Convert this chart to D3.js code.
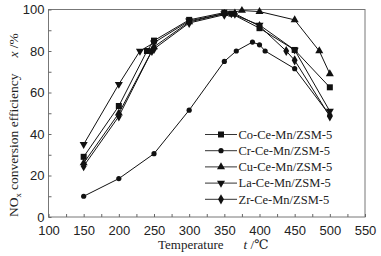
<!DOCTYPE html>
<html>
<head>
<meta charset="utf-8">
<title>NOx conversion</title>
<style>
  body { margin: 0; background: #fff; }
  svg { font-family: "Liberation Serif", "DejaVu Serif", serif; }
  .axis text { font-size: 13px; fill: #222; }
  .axis line { stroke: #666; }
  .axis path { display: none; }
  .series { fill: none; stroke: #111; stroke-width: 1; }
  .legend text { font-size: 12.5px; fill: #222; }
</style>
</head>
<body>
<div id="chart"></div>
<script src="https://d3js.org/d3.v7.min.js"></script>
<script>
// values: [temperature, efficiency %]
var seriesNames = ["Co-Ce-Mn/ZSM-5", "Cr-Ce-Mn/ZSM-5", "Cu-Ce-Mn/ZSM-5", "La-Ce-Mn/ZSM-5", "Zr-Ce-Mn/ZSM-5"];
var coData = [[150,29],[200,53.5],[240,80],[250,85],[300,95],[350,98.5],[360,98],[400,91],[450,80.5],[500,62.5]];
var crData = [[150,10],[200,18.5],[250,30.5],[300,51.5],[350,75],[367,80],[390,84.3],[400,83],[408,80],[450,71.5],[500,49]];
var cuData = [[150,26],[200,50],[250,82],[300,94],[350,98],[375,99.5],[400,99],[450,95],[485,80],[500,69]];
var laData = [[150,35],[200,64],[230,80],[250,84],[300,94.5],[350,98],[360,98],[400,92.5],[450,80.5],[500,51]];
var zrData = [[150,24.5],[200,48.5],[247,80],[250,81],[300,93.5],[350,97.5],[365,98],[400,92],[438,80],[450,75.5],[500,48.5]];
var markerTypes = ["square", "circle", "up", "down", "diamond"];
var xTicks = [100,150,200,250,300,350,400,450,500,550];
var yTicks = [0,20,40,60,80,100];

var W = 381, H = 256;
var mLeft = 48.5, mRight = 365, mTop = 9.5, mBottom = 217;

var svg = d3.select("#chart").append("svg")
  .attr("width", W).attr("height", H);

var x = d3.scaleLinear().domain([100, 550]).range([mLeft, mRight]);
var y = d3.scaleLinear().domain([0, 100]).range([mBottom, mTop]);

// frame
svg.append("rect")
  .attr("x", mLeft).attr("y", mTop)
  .attr("width", mRight - mLeft).attr("height", mBottom - mTop)
  .attr("fill", "none").attr("stroke", "#777").attr("stroke-width", 1);

// x axis (ticks inward)
var gx = svg.append("g").attr("class", "axis")
  .attr("transform", "translate(0," + mBottom + ")")
  .call(d3.axisBottom(x).tickValues(d3.range(100, 551, 25))
    .tickSizeInner(-3).tickSizeOuter(0)
    .tickFormat(function(d) { return xTicks.indexOf(d) >= 0 ? d : ""; }));
gx.selectAll("text").attr("y", 9).attr("dy", "0.71em");

// y axis
var gy = svg.append("g").attr("class", "axis")
  .attr("transform", "translate(" + mLeft + ",0)")
  .call(d3.axisLeft(y).tickValues(d3.range(0, 101, 10))
    .tickSizeInner(-3).tickSizeOuter(0)
    .tickFormat(function(d) { return yTicks.indexOf(d) >= 0 ? d : ""; }));
gy.selectAll("text").attr("x", -4);

// axis titles
var xl = svg.append("text")
  .attr("x", 158).attr("y", 249)
  .attr("font-size", 13).attr("fill", "#222");
xl.append("tspan").text("Temperature");
xl.append("tspan").attr("dx", 20).attr("font-style", "italic").text("t");
xl.append("tspan").text(" /\u2103");

var yl = svg.append("text")
  .attr("transform", "translate(18," + mBottom + ") rotate(-90)")
  .attr("font-size", 13.5).attr("fill", "#222");
yl.append("tspan").text("NO");
yl.append("tspan").attr("font-size", 8.5).attr("dy", 3).text("x");
yl.append("tspan").attr("dy", -3).text(" conversion efficiency");
yl.append("tspan").attr("dx", 16).attr("font-style", "italic").text("x");
yl.append("tspan").text(" /%");

function drawMarker(g, type, cx, cy) {
  if (type === "square") {
    g.append("rect").attr("x", cx - 3).attr("y", cy - 3).attr("width", 6).attr("height", 6).attr("fill", "#111");
  } else if (type === "circle") {
    g.append("circle").attr("cx", cx).attr("cy", cy).attr("r", 2.6).attr("fill", "#111");
  } else {
    var sym = type === "diamond" ? d3.symbolDiamond : d3.symbolTriangle;
    var p = g.append("path").attr("d", d3.symbol().type(sym).size(type === "diamond" ? 30 : 28)())
      .attr("fill", "#111");
    var t = "translate(" + cx + "," + cy + ")";
    if (type === "down") t += " rotate(180)";
    p.attr("transform", t);
  }
}

var allData = [coData, crData, cuData, laData, zrData];
var line = d3.line().x(function(d) { return x(d[0]); }).y(function(d) { return y(d[1]); });

allData.forEach(function(data, i) {
  svg.append("path").datum(data).attr("class", "series").attr("d", line);
  var g = svg.append("g");
  data.forEach(function(d) { drawMarker(g, markerTypes[i], x(d[0]), y(d[1])); });
});

// legend
var legend = svg.append("g").attr("class", "legend");
seriesNames.forEach(function(name, i) {
  var ly = 134.5 + i * 16.2;
  legend.append("line").attr("x1", 205).attr("x2", 237).attr("y1", ly).attr("y2", ly)
    .attr("stroke", "#333").attr("stroke-width", 1);
  drawMarker(legend, markerTypes[i], 221, ly);
  legend.append("text").attr("x", 238.5).attr("y", ly).attr("dy", "0.35em").text(name);
});
</script>
</body>
</html>
